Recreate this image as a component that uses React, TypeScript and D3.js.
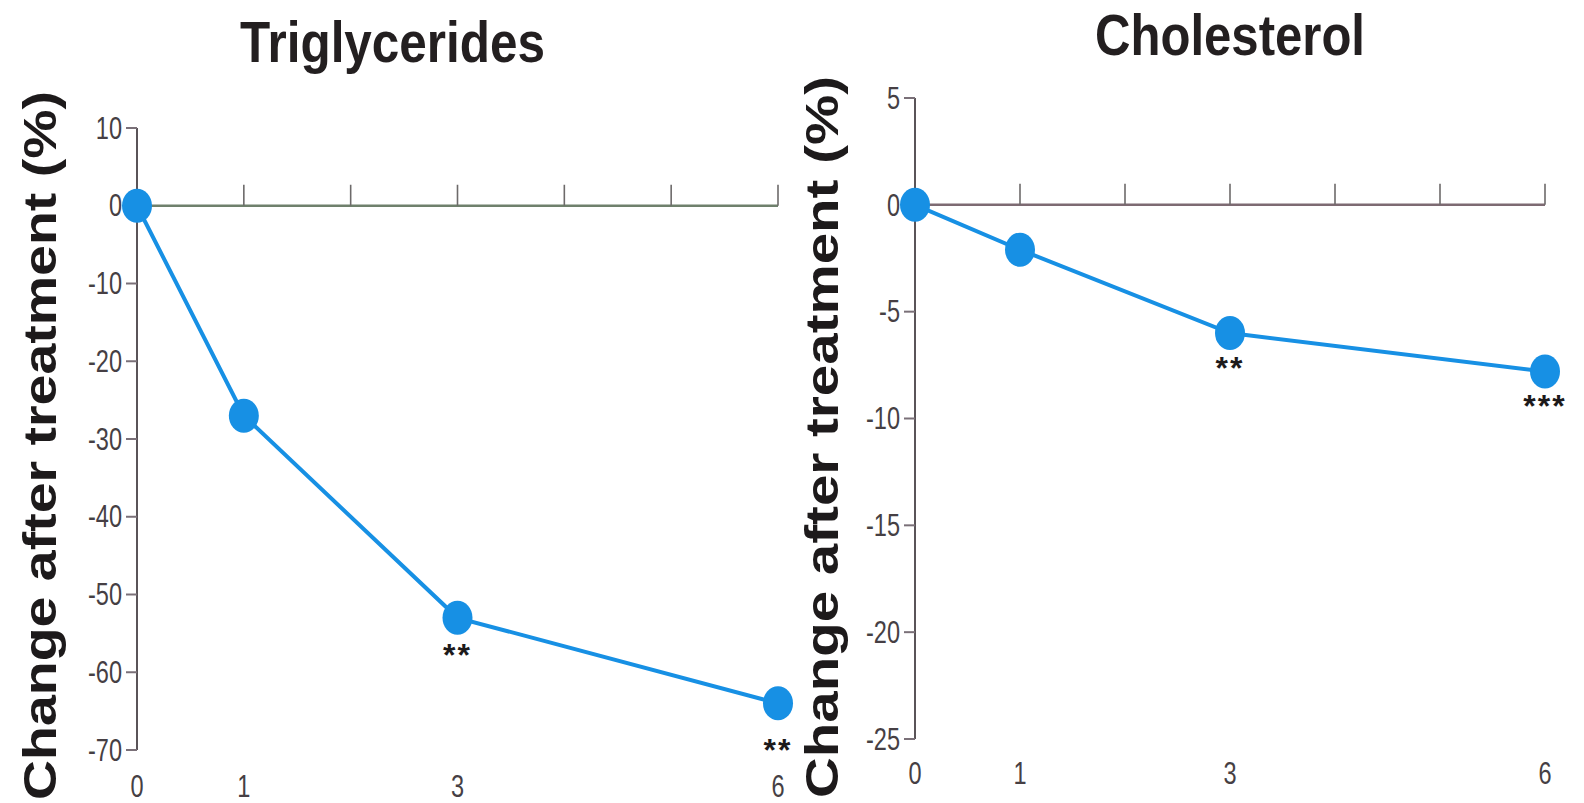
import React from 'react';
import * as d3 from 'd3';

// months after start of treatment
const months = [0, 1, 3, 6];
const xLabels = [0, 1, 3, 6];
const xTopTicks = [1, 2, 3, 4, 5, 6];

// Triglycerides, change (%)
const trigValues = [0, -27, -53, -64];
const trigStars = ['', '', '**', '**'];
const trigTicks = [10, 0, -10, -20, -30, -40, -50, -60, -70];

// Cholesterol, change (%)
const cholValues = [0, -2.1, -6, -7.8];
const cholStars = ['', '', '**', '***'];
const cholTicks = [5, 0, -5, -10, -15, -20, -25];

const blue = '#1790e4';
const font = "'Liberation Sans', Arial, sans-serif";

type PanelProps = {
  title: string;
  values: number[];
  stars: string[];
  starDy: number[];
  ticks: number[];
  x0: number;
  x1: number;
  yTop: number;
  yBottom: number;
  titleX: number;
  titleW: number;
  titleY: number;
  labelX: number;
  labelTop: number;
  labelBottom: number;
  xLabelY: number;
  axisColor: string;
};

function Panel(p: PanelProps) {
  const xScale = d3.scaleLinear().domain([0, 6]).range([p.x0, p.x1]);
  const yScale = d3
    .scaleLinear()
    .domain([d3.max(p.ticks)!, d3.min(p.ticks)!])
    .range([p.yTop, p.yBottom]);

  const pts = months.map((m, i) => [xScale(m), yScale(p.values[i])] as [number, number]);
  const line = d3.line();
  const y0 = yScale(0);

  return (
    <g>
      {/* title */}
      <text
        x={p.titleX}
        y={p.titleY}
        fontFamily={font}
        fontWeight="bold"
        fontSize={58}
        textLength={p.titleW}
        lengthAdjust="spacingAndGlyphs"
        fill="#231f20"
      >
        {p.title}
      </text>

      {/* y axis label */}
      <text
        transform={`translate(${p.labelX},${p.labelBottom}) rotate(-90)`}
        fontFamily={font}
        fontWeight="bold"
        fontSize={47}
        textLength={p.labelBottom - p.labelTop}
        lengthAdjust="spacingAndGlyphs"
        fill="#1d1a1b"
      >
        Change after treatment (%)
      </text>

      {/* y axis */}
      <line x1={p.x0} x2={p.x0} y1={p.yTop} y2={p.yBottom} stroke="#5a5458" strokeWidth={2} />
      {p.ticks.map((t) => (
        <g key={t} transform={`translate(${p.x0},${yScale(t)})`}>
          <line x1={-11} x2={0} stroke="#7a7078" strokeWidth={2} />
          <text
            transform="translate(-15,0) scale(0.76,1)"
            textAnchor="end"
            dominantBaseline="central"
            fontFamily={font}
            fontSize={31}
            fill="#463f44"
          >
            {t}
          </text>
        </g>
      ))}

      {/* horizontal axis at zero */}
      <line x1={p.x0} x2={p.x1} y1={y0} y2={y0} stroke={p.axisColor} strokeWidth={2.5} />
      {xTopTicks.map((t) => (
        <line
          key={t}
          x1={xScale(t)}
          x2={xScale(t)}
          y1={y0}
          y2={y0 - 21}
          stroke="#6d6a6a"
          strokeWidth={1.6}
        />
      ))}

      {/* month labels */}
      {xLabels.map((t) => (
        <text
          key={t}
          transform={`translate(${xScale(t)},${p.xLabelY}) scale(0.76,1)`}
          textAnchor="middle"
          fontFamily={font}
          fontSize={31}
          fill="#463f44"
        >
          {t}
        </text>
      ))}

      {/* series */}
      <path d={line(pts) || ''} fill="none" stroke={blue} strokeWidth={4} />
      {pts.map(([x, y], i) => (
        <ellipse key={i} cx={x} cy={y} rx={15} ry={17} fill={blue} />
      ))}
      {pts.map(([x, y], i) =>
        p.stars[i] ? (
          <text
            key={'s' + i}
            x={x}
            y={y + p.starDy[i]}
            textAnchor="middle"
            fontFamily={font}
            fontWeight="bold"
            fontSize={32}
            letterSpacing={2}
            fill="#1d1a1b"
          >
            {p.stars[i]}
          </text>
        ) : null
      )}
    </g>
  );
}

export default function App() {
  return (
    <svg
      width={1584}
      height={803}
      style={{ position: 'absolute', left: 0, top: 0, background: '#fff' }}
    >
      <Panel
        title="Triglycerides"
        values={trigValues}
        stars={trigStars}
        starDy={[0, 0, 48, 58]}
        ticks={trigTicks}
        x0={137}
        x1={778}
        yTop={128}
        yBottom={750}
        titleX={240}
        titleW={305}
        titleY={62}
        labelX={56}
        labelTop={91}
        labelBottom={800}
        xLabelY={797}
        axisColor="#6f806c"
      />
      <Panel
        title="Cholesterol"
        values={cholValues}
        stars={cholStars}
        starDy={[0, 0, 46, 46]}
        ticks={cholTicks}
        x0={915}
        x1={1545}
        yTop={98}
        yBottom={739}
        titleX={1095}
        titleW={270}
        titleY={55}
        labelX={838}
        labelTop={76}
        labelBottom={798}
        xLabelY={784}
        axisColor="#7d6a72"
      />
    </svg>
  );
}
